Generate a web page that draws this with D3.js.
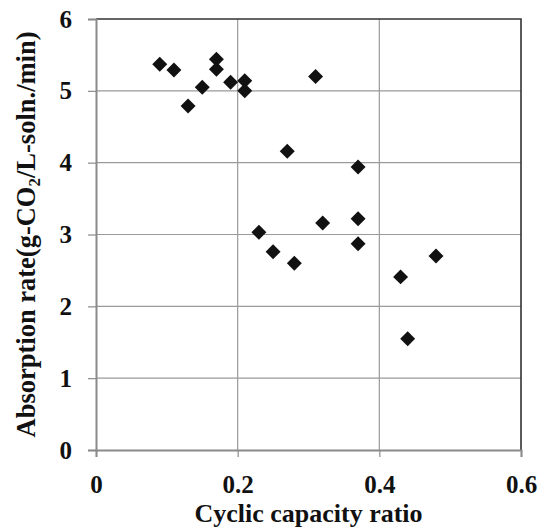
<!DOCTYPE html>
<html>
<head>
<meta charset="utf-8">
<script src="https://cdn.jsdelivr.net/npm/d3@7"></script>
<style>
  body { margin: 0; background: #fff; }
  text { font-family: "Liberation Serif", "Times New Roman", serif; font-weight: bold; fill: #111; }
</style>
</head>
<body>
<div id="chart"></div>
<script>
// data
let ratio = [0.09, 0.11, 0.13, 0.15, 0.17, 0.17, 0.19, 0.21, 0.21, 0.23, 0.25, 0.27, 0.28, 0.31, 0.32, 0.37, 0.37, 0.37, 0.43, 0.44, 0.48]
let rate  = [5.37, 5.29, 4.79, 5.05, 5.44, 5.30, 5.12, 5.14, 5.00, 3.03, 2.76, 4.16, 2.60, 5.20, 3.16, 3.94, 3.22, 2.87, 2.41, 1.55, 2.70]
let xTicks = [0, 0.2, 0.4, 0.6]
let yTicks = [0, 1, 2, 3, 4, 5, 6]

let w = 539
let h = 530
let margin = {top: 19, right: 18, bottom: 80, left: 96}
let width = w - margin.left - margin.right
let height = h - margin.top - margin.bottom

let svg = d3.select("#chart")
  .append("svg")
  .attr("width", w)
  .attr("height", h)

let g = svg.append("g")
  .attr("transform", `translate(${margin.left},${margin.top})`)

let x = d3.scaleLinear().domain([0, 0.6]).range([0, width])
let y = d3.scaleLinear().domain([0, 6]).range([height, 0])

// grid
g.append("g")
  .selectAll("line.gx")
  .data(xTicks.slice(1, -1))
  .join("line")
  .attr("x1", d => x(d)).attr("x2", d => x(d))
  .attr("y1", 0).attr("y2", height)
  .attr("stroke", "#9a9a9a").attr("stroke-width", 1.2)

g.append("g")
  .selectAll("line.gy")
  .data(yTicks.slice(1, -1))
  .join("line")
  .attr("x1", 0).attr("x2", width)
  .attr("y1", d => y(d)).attr("y2", d => y(d))
  .attr("stroke", "#9a9a9a").attr("stroke-width", 1.2)

// top and right border
g.append("path")
  .attr("d", `M0,0H${width}V${height}`)
  .attr("fill", "none")
  .attr("stroke", "#333")
  .attr("stroke-width", 1.6)

// axes
let xAxis = d3.axisBottom(x).tickValues(xTicks).tickFormat(d3.format("")).tickSize(7).tickPadding(18)
let yAxis = d3.axisLeft(y).tickValues(yTicks).tickFormat(d3.format("d")).tickSize(8).tickPadding(16)

let gx = g.append("g").attr("transform", `translate(0,${height})`).call(xAxis)
let gy = g.append("g").call(yAxis)

;[gx, gy].forEach(a => {
  a.select(".domain").attr("stroke", "#8a8a8a").attr("stroke-width", 2)
  a.selectAll(".tick line").attr("stroke", "#8a8a8a").attr("stroke-width", 1.2)
  a.selectAll(".tick text").attr("font-size", 25).attr("font-family", null).attr("fill", null)
})

// points
let points = ratio.map((d, i) => ({x: d, y: rate[i]}))
let diamond = d3.symbol().type(d3.symbolSquare).size(112)

g.append("g")
  .selectAll("path.pt")
  .data(points)
  .join("path")
  .attr("transform", d => `translate(${x(d.x)},${y(d.y)}) rotate(45)`)
  .attr("d", diamond)
  .attr("fill", "#111")

// titles
svg.append("text")
  .attr("x", margin.left + width / 2)
  .attr("y", 522)
  .attr("text-anchor", "middle")
  .attr("font-size", 26)
  .text("Cyclic capacity ratio")

let yt = svg.append("text")
  .attr("transform", `translate(35,${margin.top + height / 2}) rotate(-90)`)
  .attr("text-anchor", "middle")
  .attr("font-size", 26.5)
yt.append("tspan").text("Absorption rate(g-CO")
yt.append("tspan").attr("font-size", 17).attr("dy", 5).text("2")
yt.append("tspan").attr("dy", -5).text("/L-soln./min)")
</script>
</body>
</html>
